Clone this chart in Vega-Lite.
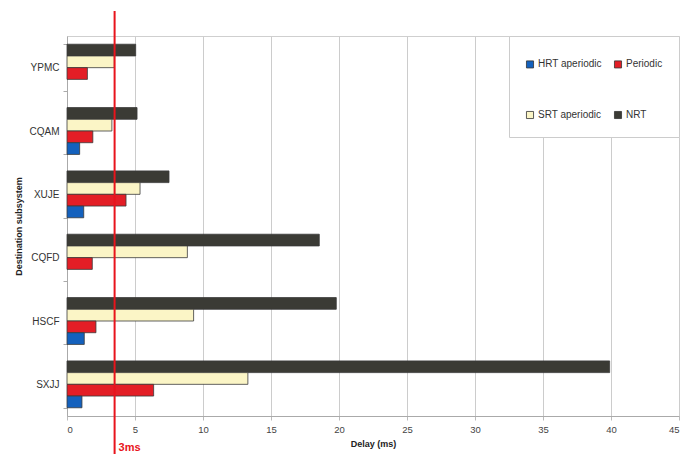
{
  "$schema": "https://vega.github.io/schema/vega-lite/v6.json",
  "width": 695,
  "height": 459,
  "autosize": {"type": "fit", "contains": "padding"},
  "padding": {"left": 14, "right": 15, "top": 10, "bottom": 4},
  "background": "white",
  "config": {
    "font": "Liberation Sans",
    "view": {"stroke": "#cfcfcf", "strokeWidth": 1}
  },
  "data": {
    "values": [
      {"subsystem": "YPMC", "type": "NRT", "delay": 5.05},
      {"subsystem": "YPMC", "type": "SRT aperiodic", "delay": 3.48},
      {"subsystem": "YPMC", "type": "Periodic", "delay": 1.5},
      {"subsystem": "CQAM", "type": "NRT", "delay": 5.15},
      {"subsystem": "CQAM", "type": "SRT aperiodic", "delay": 3.3},
      {"subsystem": "CQAM", "type": "Periodic", "delay": 1.9},
      {"subsystem": "CQAM", "type": "HRT aperiodic", "delay": 0.93},
      {"subsystem": "XUJE", "type": "NRT", "delay": 7.5},
      {"subsystem": "XUJE", "type": "SRT aperiodic", "delay": 5.37},
      {"subsystem": "XUJE", "type": "Periodic", "delay": 4.34},
      {"subsystem": "XUJE", "type": "HRT aperiodic", "delay": 1.23},
      {"subsystem": "CQFD", "type": "NRT", "delay": 18.55},
      {"subsystem": "CQFD", "type": "SRT aperiodic", "delay": 8.85},
      {"subsystem": "CQFD", "type": "Periodic", "delay": 1.86},
      {"subsystem": "HSCF", "type": "NRT", "delay": 19.8},
      {"subsystem": "HSCF", "type": "SRT aperiodic", "delay": 9.31},
      {"subsystem": "HSCF", "type": "Periodic", "delay": 2.13},
      {"subsystem": "HSCF", "type": "HRT aperiodic", "delay": 1.27},
      {"subsystem": "SXJJ", "type": "NRT", "delay": 39.9},
      {"subsystem": "SXJJ", "type": "SRT aperiodic", "delay": 13.3},
      {"subsystem": "SXJJ", "type": "Periodic", "delay": 6.37},
      {"subsystem": "SXJJ", "type": "HRT aperiodic", "delay": 1.1}
    ]
  },
  "layer": [
    {
      "mark": {"type": "bar", "stroke": "#3a3a3a", "strokeWidth": 0.8},
      "encoding": {
        "y": {
          "field": "subsystem",
          "type": "nominal",
          "sort": ["YPMC", "CQAM", "XUJE", "CQFD", "HSCF", "SXJJ"],
          "scale": {"paddingInner": 0.26, "paddingOuter": 0.13},
          "axis": {
            "title": "Destination subsystem",
            "titleFontSize": 9,
            "titleFontWeight": "bold",
            "titleColor": "#222",
            "titlePadding": 6,
            "labelFontSize": 10,
            "labelColor": "#333",
            "labelPadding": 4,
            "tickBand": "extent",
            "tickColor": "#aaa",
            "tickSize": 4,
            "domainColor": "#aaa",
            "grid": false
          }
        },
        "yOffset": {
          "field": "type",
          "type": "nominal",
          "scale": {"domain": ["NRT", "SRT aperiodic", "Periodic", "HRT aperiodic"], "paddingInner": 0, "paddingOuter": 0}
        },
        "x": {
          "field": "delay",
          "type": "quantitative",
          "scale": {"domain": [0, 45], "nice": false},
          "axis": {
            "title": "Delay (ms)",
            "titleFontSize": 9,
            "titleFontWeight": "bold",
            "titleColor": "#222",
            "titlePadding": 6,
            "values": [0, 5, 10, 15, 20, 25, 30, 35, 40, 45],
            "labelFontSize": 9.5,
            "labelColor": "#444",
            "labelPadding": 4,
            "gridColor": "#cccccc",
            "tickColor": "#bbb",
            "tickSize": 4,
            "domainColor": "#aaa"
          }
        },
        "color": {
          "field": "type",
          "type": "nominal",
          "scale": {
            "domain": ["HRT aperiodic", "Periodic", "SRT aperiodic", "NRT"],
            "range": ["#1461bd", "#e31e26", "#fbf5c6", "#3b3b35"]
          },
          "legend": {
            "title": " ",
            "titleFontSize": 2,
            "titlePadding": 5,
            "orient": "top-right",
            "offset": 0,
            "columns": 2,
            "direction": "horizontal",
            "padding": 16,
            "rowPadding": 39,
            "columnPadding": 10,
            "symbolType": "square",
            "symbolSize": 50,
            "symbolStrokeColor": "#333",
            "symbolStrokeWidth": 0.8,
            "labelFontSize": 10,
            "labelColor": "#333",
            "labelOffset": 3,
            "strokeColor": "#cccccc",
            "fillColor": "white"
          }
        }
      }
    },
    {
      "data": {"values": [{"limit": 3.5, "label": "3ms"}]},
      "mark": {"type": "rule", "color": "#e8141c", "strokeWidth": 2, "clip": false, "yOffset": -25, "y2Offset": 38},
      "encoding": {
        "x": {"field": "limit", "type": "quantitative"},
        "y": {"value": 0},
        "y2": {"value": "height"}
      }
    },
    {
      "data": {"values": [{"limit": 3.5, "label": "3ms"}]},
      "mark": {"type": "text", "color": "#e8141c", "fontWeight": "bold", "fontSize": 11, "align": "left", "baseline": "middle", "dx": 4, "dy": 32},
      "encoding": {
        "x": {"field": "limit", "type": "quantitative"},
        "y": {"value": "height"},
        "text": {"field": "label"}
      }
    }
  ]
}
